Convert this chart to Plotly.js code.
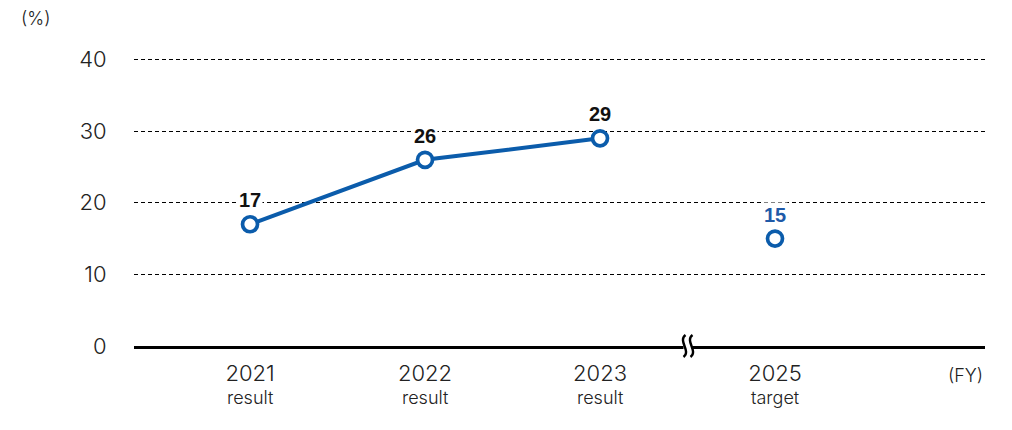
<!DOCTYPE html>
<html>
<head>
<meta charset="utf-8">
<script src="https://cdn.plot.ly/plotly-3.0.1.min.js"></script>
<style>html,body{margin:0;padding:0;background:#fff;}#chart{width:1012px;height:430px;}</style>
</head>
<body>
<div id="chart"></div>
<script>
const years = ['2021', '2022', '2023', '2025'];
const subLabels = ['result', 'result', 'result', 'target'];
const resultYears = ['2021', '2022', '2023'];
const resultValues = [17, 26, 29];
const targetYears = ['2025'];
const targetValues = [15];
const yTicks = [0, 10, 20, 30, 40];

const pos = y => years.indexOf(y);
const blue = '#0b5cab';
const fontFam = 'Inter, "Noto Sans", sans-serif';
const labelFam = '"Liberation Sans", Arial, sans-serif';

const markerStyle = {size: 15, color: '#fff', line: {color: blue, width: 3.7}};
const traces = [
  {
    x: resultYears.map(pos), y: resultValues, type: 'scatter', mode: 'lines+markers',
    line: {color: blue, width: 4}, marker: markerStyle,
    cliponaxis: false, hoverinfo: 'skip'
  },
  {
    x: targetYears.map(pos), y: targetValues, type: 'scatter', mode: 'markers',
    marker: markerStyle, cliponaxis: false, hoverinfo: 'skip'
  }
];

const valueAnn = (xs, ys, color) => xs.map((x, i) => ({
  x: pos(x), y: ys[i], xref: 'x', yref: 'y', text: String(ys[i]), showarrow: false,
  yshift: 24, bgcolor: '#fff', borderpad: 1,
  font: {size: 20, color: color, family: labelFam, weight: 700}
}));

const subAnn = years.map((y, i) => ({
  x: pos(y), y: -0.178, xref: 'x', yref: 'paper', text: subLabels[i], showarrow: false,
  xanchor: 'center', yanchor: 'middle',
  font: {size: 18, color: '#222', family: fontFam, weight: 300}
}));

// axis-break mark (decoration), sizes in pixels converted to axis/paper units
const xRange = [-0.663, 4.2];
const plotW = 1012 - 134 - 27, plotH = 430 - 56 - 84;
const breakX = 2.5;
const bx = d => (breakX + d * (xRange[1] - xRange[0]) / plotW).toFixed(5);
const by = d => (d / plotH).toFixed(5);
const squiggle = o => 'M ' + bx(o + 2) + ',' + by(11) + ' C ' + bx(o - 6) + ',' + by(5) + ' ' + bx(o + 8) + ',' + by(-5) + ' ' + bx(o) + ',' + by(-11);

const layout = {
  width: 1012, height: 430,
  margin: {l: 134, r: 27, t: 56, b: 84},
  paper_bgcolor: '#fff', plot_bgcolor: '#fff',
  showlegend: false,
  font: {family: fontFam, color: '#222'},
  xaxis: {
    range: xRange, showgrid: false, zeroline: false,
    showline: true, linecolor: '#000', linewidth: 3,
    tickmode: 'array', tickvals: years.map(pos), ticktext: years,
    ticks: 'outside', ticklen: 6, tickcolor: 'rgba(0,0,0,0)',
    tickfont: {size: 22, color: '#222', family: fontFam, weight: 300}
  },
  yaxis: {
    range: [0, 40.5], tickmode: 'array', tickvals: yTicks,
    showgrid: true, gridcolor: '#000', gridwidth: 1, griddash: '4px,3px',
    zeroline: false, showline: false,
    ticks: 'outside', ticklen: 22, tickcolor: 'rgba(0,0,0,0)',
    tickfont: {size: 22, color: '#222', family: fontFam, weight: 300}
  },
  shapes: [
    {type: 'rect', xref: 'x', yref: 'paper', x0: bx(-4), x1: bx(4), y0: by(-4), y1: by(4),
     fillcolor: '#fff', line: {width: 0}, layer: 'above'},
    {type: 'path', xref: 'x', yref: 'paper', path: squiggle(-4),
     line: {color: '#000', width: 2.4}, layer: 'above'},
    {type: 'path', xref: 'x', yref: 'paper', path: squiggle(3),
     line: {color: '#000', width: 2.4}, layer: 'above'}
  ],
  annotations: [
    ...valueAnn(resultYears, resultValues, '#111'),
    ...valueAnn(targetYears, targetValues, '#1f5aa8'),
    ...subAnn,
    {text: '(%)', xref: 'paper', yref: 'paper', x: -0.135, y: 1.13, xanchor: 'left', yanchor: 'middle',
     showarrow: false, font: {size: 18, color: '#222', family: fontFam, weight: 300}},
    {text: '(FY)', xref: 'paper', yref: 'paper', x: 1.0, y: -0.1, xanchor: 'right', yanchor: 'middle',
     showarrow: false, font: {size: 18, color: '#222', family: fontFam, weight: 300}}
  ]
};

Plotly.newPlot('chart', traces, layout, {displayModeBar: false, staticPlot: true});
</script>
</body>
</html>
